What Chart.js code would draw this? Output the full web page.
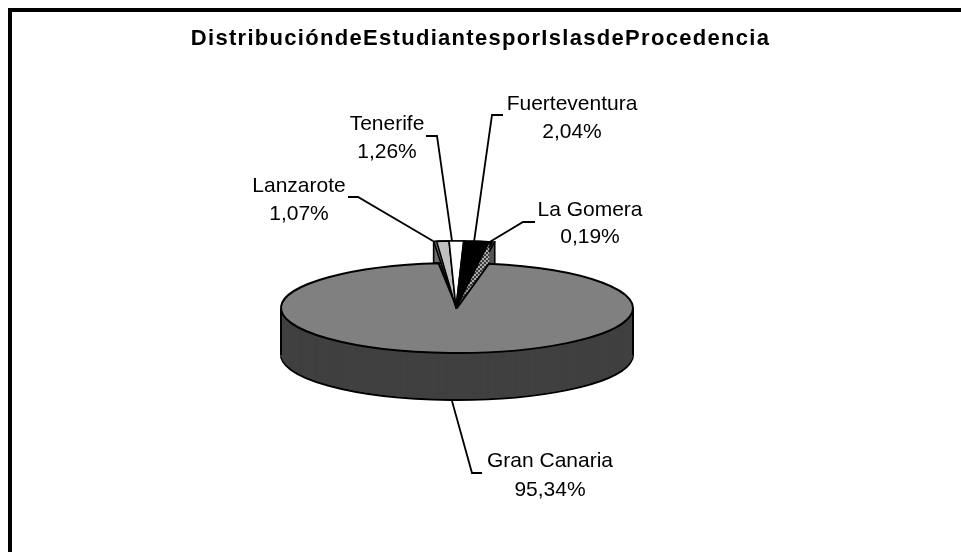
<!DOCTYPE html>
<html><head><meta charset="utf-8">
<style>
html,body{margin:0;padding:0;background:#fff;width:961px;height:552px;overflow:hidden}
#frame{position:absolute;left:8px;top:8px;right:0;bottom:0;border-top:4px solid #000;border-left:4px solid #000;pointer-events:none}
canvas{position:absolute;left:0;top:0}
</style>
<script src="https://cdn.jsdelivr.net/npm/chart.js@4"></script>
</head><body>
<canvas id="c" width="961" height="552"></canvas>
<div id="frame"></div>
<script>
const titleText = 'DistribucióndeEstudiantesporIslasdeProcedencia';
const categories = ['Lanzarote','Tenerife','Fuerteventura','La Gomera','Gran Canaria'];
const shares = [1.07, 1.26, 2.04, 0.19, 95.34];
const faceColors = ['#c0c0c0','#ffffff','#000000','#777777','#808080'];

// Projection of the pie
const CX = 457, CY = 308, RX = 176, RY = 45, DEPTH = 47, LIFT_RY = 67, LIFT_DEPTH = 22, LIFT_RX = 185, WALL_RX = 214;
// Callouts: text centre, baselines, leader polyline
const callouts = [
  {x:299, y:[192,220], p:[[348,197],[358,197],[433,241]]},
  {x:387, y:[130,158], p:[[426,136],[437,136],[452,241]]},
  {x:572, y:[110,138], p:[[503,115],[492,115],[474,242]]},
  {x:590, y:[216,243], p:[[535,222],[523,222],[488,243]]},
  {x:550, y:[467,496], p:[[482,473],[472,473],[452,401]]}
];

function ditherPattern(ctx){
  const t = document.createElement('canvas'); t.width = t.height = 4;
  const g = t.getContext('2d');
  g.fillStyle = '#3a3a3a'; g.fillRect(0,0,4,4);
  g.fillStyle = '#a8a8a8'; g.fillRect(0,0,2,2); g.fillRect(2,2,2,2);
  return ctx.createPattern(t,'repeat');
}

const pie3d = {
  id:'pie3d',
  beforeDatasetsDraw(chart){
    const ctx = chart.ctx, arcs = chart.getDatasetMeta(0).data;
    const origStroke = ctx.stroke;
    ctx.stroke = function(){ // keep the pen round under the squash transform
      const m = ctx.getTransform();
      ctx.setTransform(1,0,0,1,0,0);
      origStroke.call(ctx);
      ctx.setTransform(m);
    };
    const drawOn = (c, el, rx, ry, dy, fill, line, cx) => {
      const o = el.options;
      el.options = Object.assign({}, o, {backgroundColor:fill, borderColor:'#000', borderWidth:line,
        borderAlign:'center', offset:0, spacing:0, borderJoinStyle:'round'});
      c.save();
      c.translate(cx===undefined?CX-1:cx, CY+dy);
      c.scale(rx/el.outerRadius, ry/el.outerRadius);
      c.translate(-el.x,-el.y);
      el.draw(c);
      c.restore();
      el.options = o;
    };
    const draw = (...a) => drawOn(ctx, ...a);
    const [lan, ten, fue, gom, gc] = arcs;
    const edge = (x,y0,y1,w) => { ctx.save(); ctx.strokeStyle='#000'; ctx.lineWidth=w; ctx.beginPath(); ctx.moveTo(x,y0); ctx.lineTo(x,y1); origStroke.call(ctx); ctx.restore(); };

    // lifted small slices: outer walls behind the big slice
    for(let d=LIFT_DEPTH; d>=0; d--){
      draw(lan, WALL_RX, LIFT_RY, d, '#6e6e6e', 0);
      draw(gom, WALL_RX, LIFT_RY, d, '#555555', 0);
    }
    draw(lan, WALL_RX, LIFT_RY, LIFT_DEPTH, '#6e6e6e', 1.6);
    draw(gom, WALL_RX, LIFT_RY, LIFT_DEPTH, '#555555', 1.6);
    draw(gom, WALL_RX, LIFT_RY, 0, '#555555', 1.6);
    const top = CY-LIFT_RY;
    edge(CX-1+WALL_RX*Math.cos(lan.startAngle), top, top+LIFT_DEPTH, 1.6);
    edge(CX-1+WALL_RX*Math.cos(gom.endAngle), top, top+LIFT_DEPTH, 1.6);
    // black backing joining the walls
    draw(ten, WALL_RX, LIFT_RY, 0, '#000', 1.6);
    draw(fue, WALL_RX, LIFT_RY, 0, '#000', 1.6);
    draw(lan, WALL_RX, LIFT_RY, 0, '#6e6e6e', 1.6);

    // La Gomera's side face, filled with the dither (behind the big slice)
    const off = document.createElement('canvas'); off.width = chart.width; off.height = chart.height;
    const oc = off.getContext('2d');
    for(let d=LIFT_DEPTH; d>=0; d--) drawOn(oc, gom, LIFT_RX, LIFT_RY, d, '#000', 0);
    oc.globalCompositeOperation = 'source-in';
    oc.fillStyle = ditherPattern(oc);
    oc.fillRect(0,0,off.width,off.height);
    ctx.drawImage(off,0,0);

    // big slice: wall stack and top face
    for(let d=DEPTH; d>=1; d--) draw(gc, RX, RY, d, '#404040', 0, CX);
    draw(gc, RX, RY, DEPTH, '#404040', 2, CX);
    for(let d=DEPTH-1; d>=1; d--) draw(gc, RX, RY, d, '#404040', 0, CX);
    edge(CX-RX, CY, CY+DEPTH, 2);
    edge(CX+RX, CY, CY+DEPTH, 2);
    draw(gc, RX, RY, 0, faceColors[4], 2, CX);

    // lifted small slices: faces
    draw(lan, LIFT_RX, LIFT_RY, 0, faceColors[0], 1.6);
    draw(ten, LIFT_RX, LIFT_RY, 0, faceColors[1], 1.6);
    draw(fue, LIFT_RX, LIFT_RY, 0, faceColors[2], 1.6);
    draw(gom, LIFT_RX, LIFT_RY, 0, '#000', 1);

    ctx.stroke = origStroke;
    return false;
  },
  beforeDraw(chart){ chart.ctx.letterSpacing = '1.3px'; },
  afterDraw(chart){
    const ctx = chart.ctx;
    ctx.save();
    ctx.letterSpacing = '0px';
    ctx.font = '21px "Liberation Sans"';
    ctx.fillStyle = '#000';
    ctx.textAlign = 'center';
    ctx.textBaseline = 'alphabetic';
    categories.forEach((name,i) => {
      const c = callouts[i];
      ctx.fillText(name, c.x, c.y[0]);
      ctx.fillText(shares[i].toFixed(2).replace('.',',')+'%', c.x, c.y[1]);
      ctx.beginPath();
      c.p.forEach((q,j) => j ? ctx.lineTo(q[0],q[1]) : ctx.moveTo(q[0],q[1]));
      ctx.strokeStyle = '#000'; ctx.lineWidth = 1.8; ctx.stroke();
    });
    ctx.restore();
  }
};

new Chart(document.getElementById('c'), {
  type:'pie',
  data:{labels:categories, datasets:[{data:shares, backgroundColor:faceColors, borderColor:'#000', borderWidth:2, radius:RX}]},
  options:{
    responsive:false, animation:false, rotation:-6,
    plugins:{
      legend:{display:false}, tooltip:{enabled:false},
      title:{display:true, text:titleText, color:'#000', align:'center',
        font:{family:'"Liberation Sans"', size:22, weight:'bold'}, padding:{top:26,bottom:0}}
    }
  },
  plugins:[pie3d]
});
</script>
</body></html>
